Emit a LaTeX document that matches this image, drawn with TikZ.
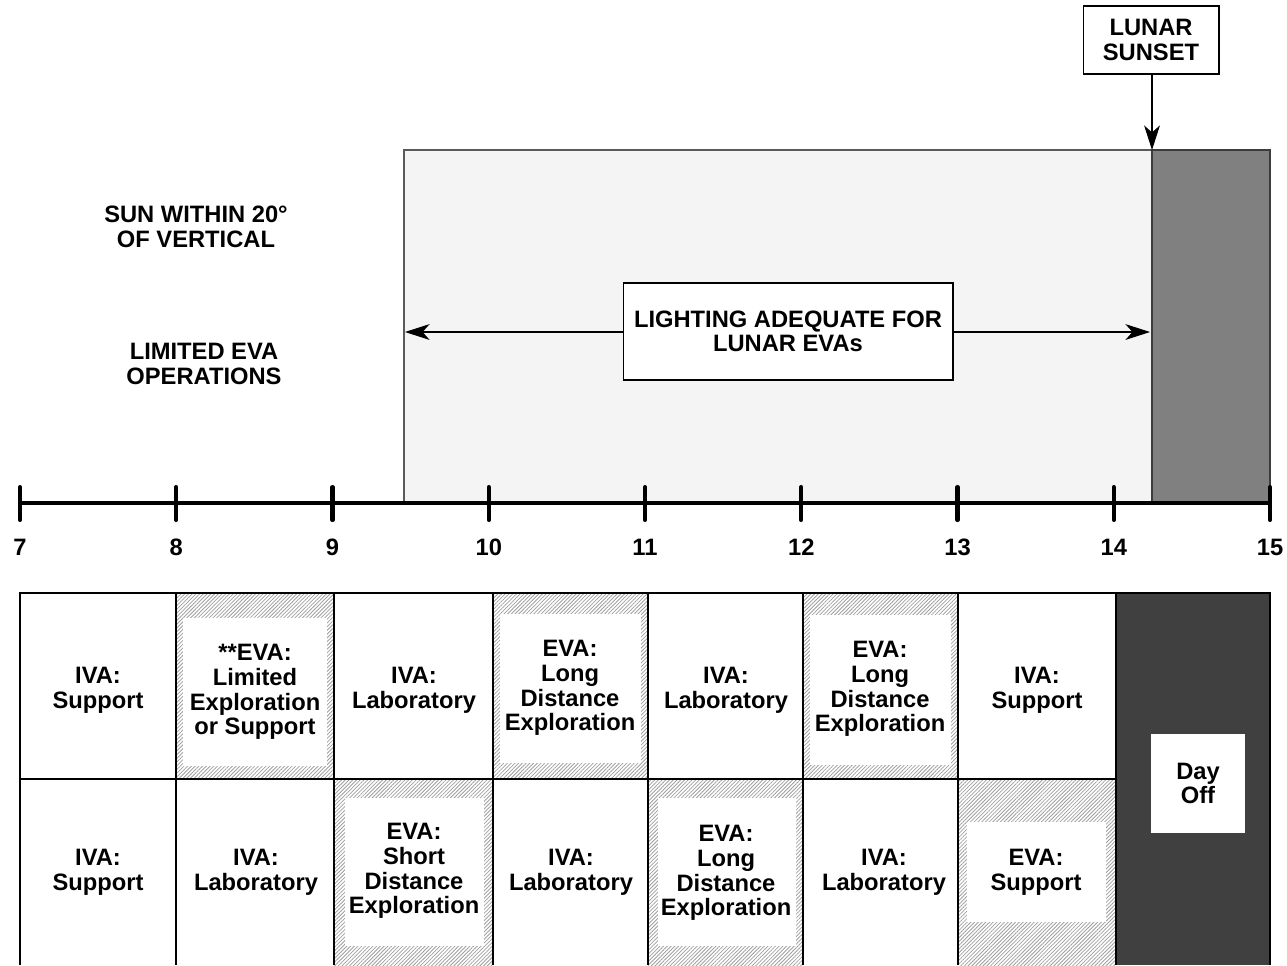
\documentclass[tikz,border=0pt]{standalone}
\usepackage{fontspec}
\setmainfont{Liberation Sans}
\usetikzlibrary{arrows.meta,patterns.meta}
\definecolor{edgegray}{RGB}{90,90,90}
\definecolor{edgedark}{RGB}{60,60,60}
\definecolor{darkgr}{RGB}{64,64,64}
\definecolor{midgr}{RGB}{128,128,128}
\definecolor{lightgr}{RGB}{244,244,244}
\begin{document}
\begin{tikzpicture}[x=0.02cm,y=-0.02cm,
  txt/.style={font=\fontsize{13.5}{14}\selectfont\bfseries, align=center, inner sep=0pt},
  boxed/.style={txt, draw=black, line width=0.6pt, fill=white},
  grid/.style={draw=black, line width=0.6pt},
  hatch/.style={pattern={Lines[angle=45,distance=1.5pt,line width=0.45pt]}, pattern color=gray!75},
  inner/.style={fill=white},
  axisline/.style={line width=2.3pt, line cap=round},
  arr/.style={line width=0.6pt, -{Stealth[length=14pt,width=9pt,inset=4pt]}},
  darkfill/.style={fill=darkgr},
  midfill/.style={fill=midgr},
  lightfill/.style={fill=lightgr}
]
\useasboundingbox (0,0) rectangle (1287,965);

% --- upper chart regions
\path[lightfill, draw=edgegray, line width=0.6pt] (404,150) rectangle (1152,503);
\draw[edgegray, line width=1.6pt] (404,150) -- (404,503);
\path[midfill, draw=edgedark, line width=0.6pt] (1152,150) rectangle (1270,503);

% --- lunar sunset
\node[boxed, minimum width=2.72cm, minimum height=1.36cm] (sunset) at (1151,40) {LUNAR\\SUNSET};
\coordinate (sunsetpt) at (1152,150);
\draw[arr] (sunset.south -| sunsetpt) -- (sunsetpt);

% --- lighting box and arrows
\node[boxed, minimum width=6.6cm, minimum height=1.94cm] (light) at (788,331.5) {LIGHTING ADEQUATE FOR\\LUNAR EVAs};
\coordinate (lightL) at (405,332);
\coordinate (lightR) at (1150,332);
\draw[arr] (light.west |- lightL) -- (lightL);
\draw[arr] (light.east |- lightR) -- (lightR);

% --- left labels
\node[txt] (sun) at (196,227) {SUN WITHIN 20°\\OF VERTICAL};
\node[txt] (limited) at (204,364) {LIMITED EVA\\OPERATIONS};

% --- time axis
\draw[axisline] (20,503) -- (1270,503);
\foreach \t [count=\i from 0] in {7,...,15}{
  \pgfmathsetmacro{\xx}{20+\i*156.25}
  \draw[axisline] (\xx,487) -- (\xx,520);
  \node[txt] (tick\t) at (\xx,547) {\t};
}

% --- schedule grid: hatched cells
\path[hatch] (176,593) rectangle (334,779);
\path[hatch] (493,593) rectangle (648,779);
\path[hatch] (803,593) rectangle (958,779);
\path[hatch] (334,779) rectangle (493,965);
\path[hatch] (648,779) rectangle (803,965);
\path[hatch] (958,779) rectangle (1116,965);
% inner white boxes
\path[inner] (183,618) rectangle (327,766);
\path[inner] (500,614) rectangle (641,763);
\path[inner] (810,615) rectangle (951,765);
\path[inner] (345,798) rectangle (484,946);
\path[inner] (658,798) rectangle (796,946);
\path[inner] (967,822) rectangle (1106,922);

% day off column
\path[darkfill] (1116,593) rectangle (1270,965);

% grid lines
\draw[grid] (20,965) -- (20,593) -- (1270,593) -- (1270,965);
\draw[grid] (20,779) -- (1116,779);
\foreach \gx in {176,334,493,648,803,958,1116}{
  \draw[grid] (\gx,593) -- (\gx,965);
}

% --- top row texts
\node[txt] (t1) at (98,690) {IVA:\\Support};
\node[txt] (t2) at (255,692) {**EVA:\\Limited\\Exploration\\or Support};
\node[txt] (t3) at (414,690) {IVA:\\Laboratory};
\node[txt] (t4) at (570,688) {EVA:\\Long\\Distance\\Exploration};
\node[txt] (t5) at (726,690) {IVA:\\Laboratory};
\node[txt] (t6) at (880,689) {EVA:\\Long\\Distance\\Exploration};
\node[txt] (t7) at (1037,690) {IVA:\\Support};

% --- bottom row texts
\node[txt] (b1) at (98,872) {IVA:\\Support};
\node[txt] (b2) at (256,872) {IVA:\\Laboratory};
\node[txt] (b3) at (414,871) {EVA:\\Short\\Distance\\Exploration};
\node[txt] (b4) at (571,872) {IVA:\\Laboratory};
\node[txt] (b5) at (726,873) {EVA:\\Long\\Distance\\Exploration};
\node[txt] (b6) at (884,872) {IVA:\\Laboratory};
\node[txt] (b7) at (1036,872) {EVA:\\Support};

% --- day off
\node[txt, fill=white, minimum width=1.88cm, minimum height=1.98cm] (dayoff) at (1198,783.5) {Day\\Off};
\end{tikzpicture}
\end{document}
